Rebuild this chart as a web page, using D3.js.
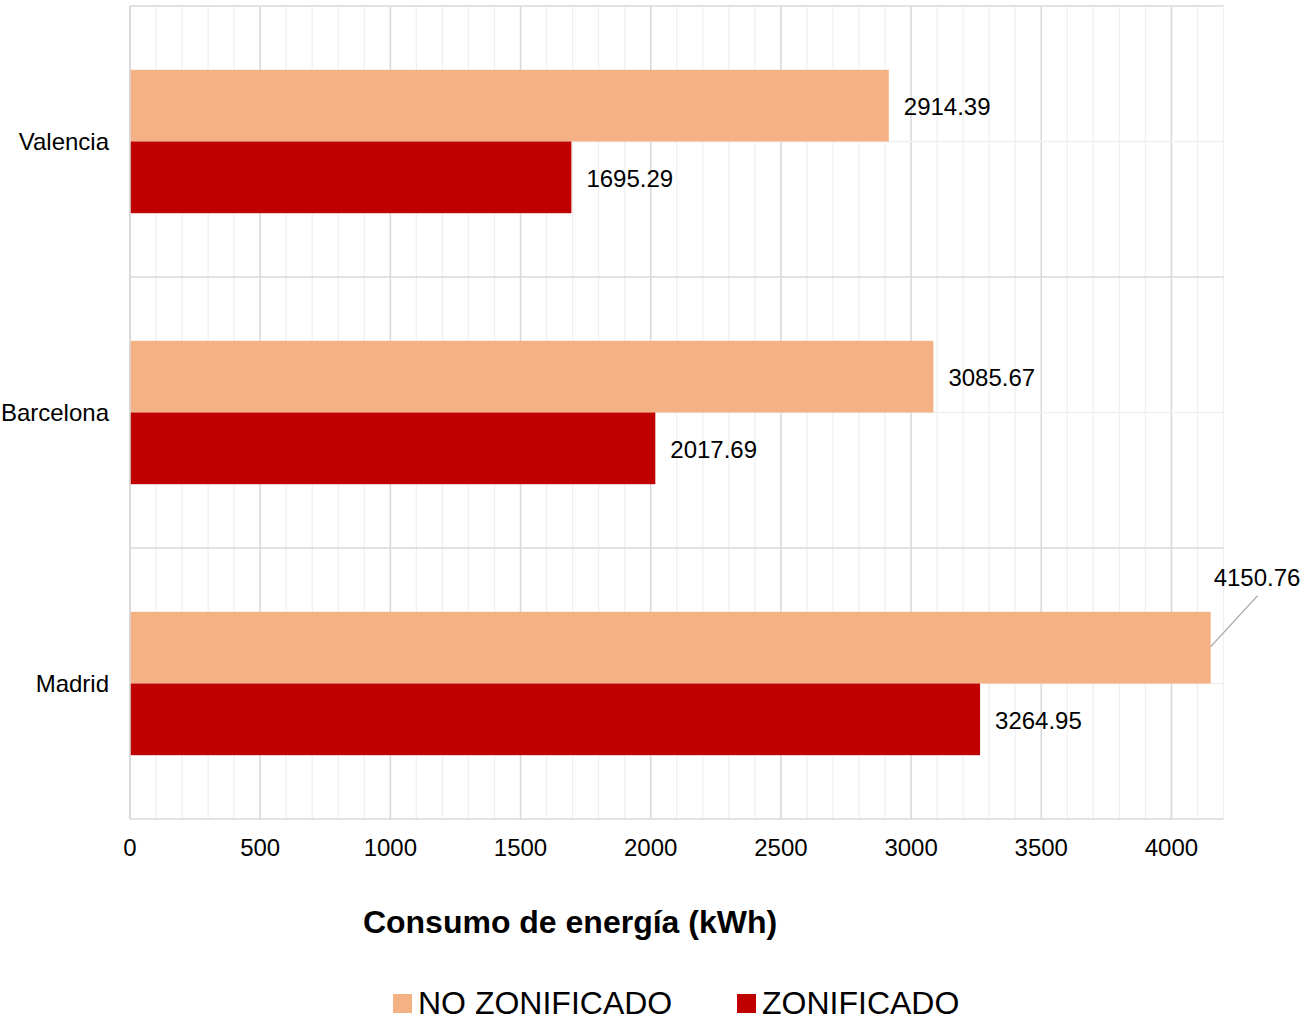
<!DOCTYPE html>
<html>
<head>
<meta charset="utf-8">
<script src="https://cdn.jsdelivr.net/npm/d3@7"></script>
<style>
  body { margin: 0; background: #fff; }
  text { font-family: "Liberation Sans", Arial, sans-serif; }
</style>
</head>
<body>
<script>
// data
var cities = ["Valencia", "Barcelona", "Madrid"];
var noZonificado = [2914.39, 3085.67, 4150.76];
var zonificado = [1695.29, 2017.69, 3264.95];
var seriesNames = ["NO ZONIFICADO", "ZONIFICADO"];
var seriesColors = ["#F4B183", "#C00000"];
var xTicks = [0, 500, 1000, 1500, 2000, 2500, 3000, 3500, 4000];

var width = 1304, height = 1021;
var plotL = 130, plotR = 1223.5, plotT = 6, plotB = 819;

var svg = d3.select("body").append("svg")
    .attr("width", width)
    .attr("height", height);

var x = d3.scaleLinear().domain([0, 4200]).range([plotL, plotR]);
var y = d3.scaleBand().domain(cities).range([plotT, plotB]);
var inner = d3.scaleBand().domain([0, 1])
    .range([0, y.bandwidth()]).paddingOuter(0.89).paddingInner(0);

// minor vertical grid
svg.append("g").selectAll("line")
    .data(d3.range(0, 4201, 100))
    .enter().append("line")
    .attr("x1", function(d){ return x(d); })
    .attr("x2", function(d){ return x(d); })
    .attr("y1", plotT).attr("y2", plotB)
    .attr("stroke", function(d){ return d % 500 === 0 ? "#d9d9d9" : "#f0f0f0"; })
    .attr("stroke-width", function(d){ return d % 500 === 0 ? 1.6 : 1.3; });

// horizontal grid: band centers (minor) and boundaries (major)
svg.append("g").selectAll("line")
    .data(cities)
    .enter().append("line")
    .attr("x1", plotL).attr("x2", plotR)
    .attr("y1", function(d){ return y(d) + y.bandwidth() / 2; })
    .attr("y2", function(d){ return y(d) + y.bandwidth() / 2; })
    .attr("stroke", "#f0f0f0").attr("stroke-width", 1.3);

var bounds = cities.map(function(c){ return y(c); }).concat([plotB]);
svg.append("g").selectAll("line")
    .data(bounds)
    .enter().append("line")
    .attr("x1", plotL).attr("x2", plotR)
    .attr("y1", function(d){ return d; })
    .attr("y2", function(d){ return d; })
    .attr("stroke", "#d9d9d9").attr("stroke-width", 1.6);

// bars
var series = [noZonificado, zonificado];
series.forEach(function(vals, si){
    svg.append("g").selectAll("rect")
        .data(vals)
        .enter().append("rect")
        .attr("x", x(0))
        .attr("y", function(d, i){ return y(cities[i]) + inner(si); })
        .attr("width", function(d){ return x(d) - x(0); })
        .attr("height", inner.bandwidth())
        .attr("fill", seriesColors[si]);
});

// left axis line
svg.append("line")
    .attr("x1", plotL).attr("x2", plotL)
    .attr("y1", plotT).attr("y2", plotB)
    .attr("stroke", "#d9d9d9").attr("stroke-width", 1.6);

// value labels
series.forEach(function(vals, si){
    svg.append("g").selectAll("text")
        .data(vals)
        .enter().append("text")
        .attr("x", function(d){ return d > 4000 ? x(d) + 3 : x(d) + 15; })
        .attr("y", function(d, i){
            var cy = y(cities[i]) + inner(si) + inner.bandwidth() / 2;
            return d > 4000 ? cy - 70 : cy + 1;
        })
        .attr("dy", "0.35em")
        .attr("font-size", 24)
        .attr("fill", "#000")
        .text(function(d){ return d.toFixed(2); });
});

// leader line for the label that goes outside
noZonificado.forEach(function(d, i){
    if (d > 4000) {
        var cy = y(cities[i]) + inner(0) + inner.bandwidth() / 2;
        svg.append("line")
            .attr("x1", x(d)).attr("y1", cy - 1)
            .attr("x2", x(d) + 47).attr("y2", cy - 52)
            .attr("stroke", "#a6a6a6").attr("stroke-width", 1.3);
    }
});

// category labels
svg.append("g").selectAll("text")
    .data(cities)
    .enter().append("text")
    .attr("x", 109)
    .attr("y", function(d){ return y(d) + y.bandwidth() / 2; })
    .attr("dy", "0.35em")
    .attr("text-anchor", "end")
    .attr("font-size", 24)
    .text(function(d){ return d; });

// x tick labels
svg.append("g").selectAll("text")
    .data(xTicks)
    .enter().append("text")
    .attr("x", function(d){ return x(d); })
    .attr("y", 848)
    .attr("dy", "0.35em")
    .attr("text-anchor", "middle")
    .attr("font-size", 24)
    .text(function(d){ return d; });

// axis title
svg.append("text")
    .attr("x", 570).attr("y", 922)
    .attr("dy", "0.35em")
    .attr("text-anchor", "middle")
    .attr("font-size", 32)
    .attr("font-weight", "bold")
    .text("Consumo de energía (kWh)");

// legend
var legendX = [393, 737];
seriesNames.forEach(function(n, i){
    var g = svg.append("g").attr("transform", "translate(" + legendX[i] + ",1003)");
    g.append("rect").attr("x", 0).attr("y", -9).attr("width", 19).attr("height", 19)
        .attr("fill", seriesColors[i]);
    g.append("text").attr("x", 25).attr("y", 0).attr("dy", "0.35em")
        .attr("font-size", 32).text(n);
});
</script>
</body>
</html>
